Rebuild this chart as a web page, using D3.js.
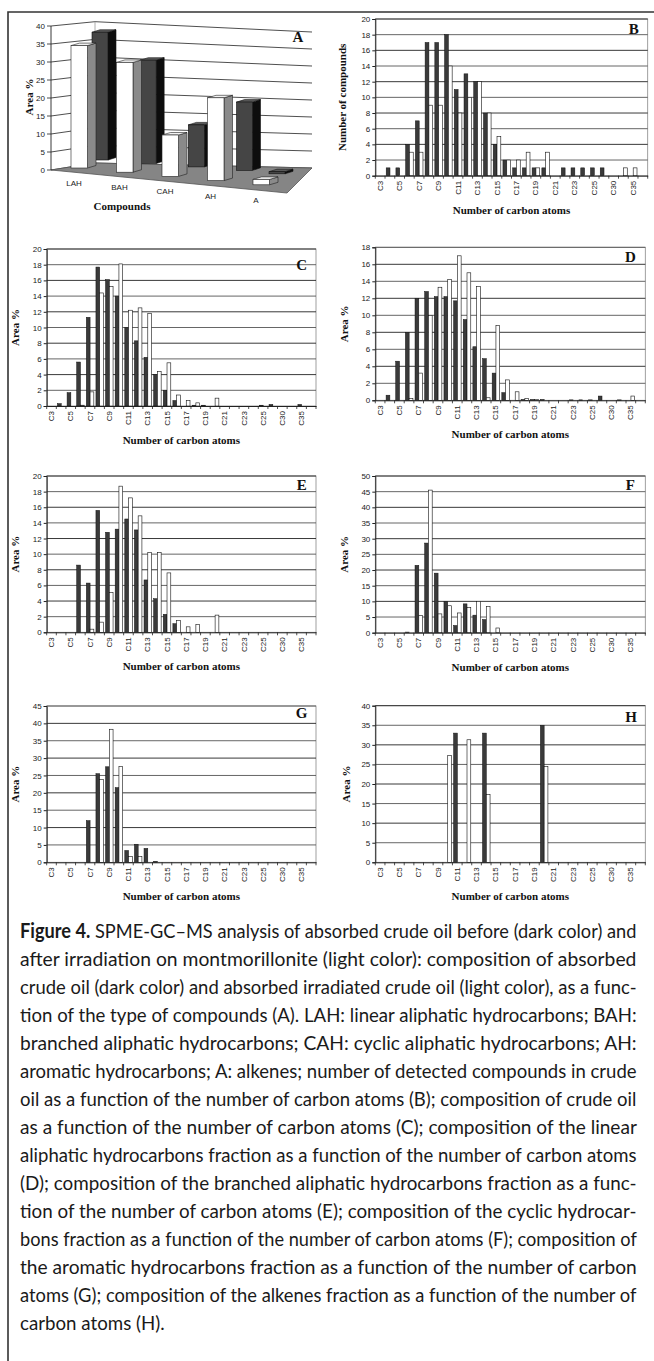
<!DOCTYPE html>
<html>
<head>
<meta charset="utf-8">
<script src="https://cdnjs.cloudflare.com/ajax/libs/d3/7.8.5/d3.min.js"></script>
<style>
  body { margin: 0; background: #fff; }
  svg { display: block; }
</style>
</head>
<body>
<div class="container"></div>
<script>
const size = {
    width: 654,
    height: 1361
};

// ---- data: panel A (3D columns) ----
const compounds = ["LAH", "BAH", "CAH", "AH", "A"];
const areaAfter = [34, 30.5, 11.5, 23, 1.5];     // light, front row
const areaBefore = [36.5, 29.5, 12, 19.5, 0.6];  // dark, back row
const ticksA = [0, 5, 10, 15, 20, 25, 30, 35, 40];

// ---- data: panels B..H ----
const carbons = ["C3","C4","C5","C6","C7","C8","C9","C10","C11","C12","C13","C14","C15","C16",
                 "C17","C18","C19","C20","C21","C22","C23","C24","C25","C27","C30","C33","C35","C36"];

const compBefore = [0,1,1,4,7,17,17,18,11,13,12,8,4,2,1,1,1,1,0,1,1,1,1,1,0,0,0,0];
const compAfter  = [0,0,0,3,3,9,9,14,8,10,12,8,5,2,2,3,1,3,0,0,0,0,0,0,0,1,1,0];

const crudeBefore = [0,0.3,1.7,5.6,11.3,17.7,16.1,14,10,8.3,6.2,4,2,0.7,0,0.1,0.1,0,0,0,0,0,0.1,0.2,0,0,0.2,0];
const crudeAfter  = [0,0,0,0.1,1.8,14.4,15.2,18.1,12.2,12.5,11.8,4.4,5.5,1.4,0.7,0.4,0,1.0,0,0,0,0,0,0,0,0,0,0];

const linearBefore = [0,0.6,4.6,8,12,12.8,12.2,12.2,11.7,9.5,6.3,4.9,3.2,0.9,0,0.1,0.1,0.1,0,0,0.05,0.05,0.05,0.5,0,0.05,0,0];
const linearAfter  = [0,0,0,0.2,3.2,10,13.3,14.2,17,15,13.4,0.3,8.8,2.4,1.0,0.2,0.1,0,0,0,0,0,0,0,0,0,0.5,0];

const branchedBefore = [0,0,0,8.6,6.3,15.6,12.8,13.2,14.5,13.1,6.7,4.3,2.3,1.1,0,0,0,0,0,0,0,0,0,0,0,0,0,0];
const branchedAfter  = [0,0,0,0,0.4,1.3,5.1,18.7,17.2,14.9,10.2,10.2,7.6,1.5,0.7,1.0,0,2.2,0,0,0,0,0,0,0,0,0,0];

const cyclicBefore = [0,0,0,0.2,21.5,28.6,19,10,2.3,9.2,5.6,4.2,0,0,0,0,0,0,0,0,0,0,0,0,0,0,0,0];
const cyclicAfter  = [0,0,0,0,5.5,45.5,6,8.6,6.3,8,10,8.3,1.5,0,0,0,0,0,0,0,0,0,0,0,0,0,0,0];

const aromaticBefore = [0,0,0,0,12,25.5,27.5,21.5,3.4,5.2,4,0.3,0,0,0,0,0,0,0,0,0,0,0,0,0,0,0,0];
const aromaticAfter  = [0,0,0,0,0,23.8,38.3,27.6,1.7,1.7,0,0,0,0,0,0,0,0,0,0,0,0,0,0,0,0,0,0];

const alkenesBefore = [0,0,0,0,0,0,0,0,33,0,0,33,0,0,0,0,0,35,0,0,0,0,0,0,0,0,0,0];
const alkenesAfter  = [0,0,0,0,0,0,0,27.3,0,31.3,0,17.3,0,0,0,0,0,24.5,0,0,0,0,0,0,0,0,0,0];

const captionLines = [
    " SPME-GC\u2013MS analysis of absorbed crude oil before (dark color) and",
    "after irradiation on montmorillonite (light color): composition of absorbed",
    "crude oil (dark color) and absorbed irradiated crude oil (light color), as a func-",
    "tion of the type of compounds (A). LAH: linear aliphatic hydrocarbons; BAH:",
    "branched aliphatic hydrocarbons; CAH: cyclic aliphatic hydrocarbons; AH:",
    "aromatic hydrocarbons; A: alkenes; number of detected compounds in crude",
    "oil as a function of the number of carbon atoms (B); composition of crude oil",
    "as a function of the number of carbon atoms (C); composition of the linear",
    "aliphatic hydrocarbons fraction as a function of the number of carbon atoms",
    "(D); composition of the branched aliphatic hydrocarbons fraction as a func-",
    "tion of the number of carbon atoms (E); composition of the cyclic hydrocar-",
    "bons fraction as a function of the number of carbon atoms (F); composition of",
    "the aromatic hydrocarbons fraction as a function of the number of carbon",
    "atoms (G); composition of the alkenes fraction as a function of the number of",
    "carbon atoms (H)."
];

const sans = "'Liberation Sans', Arial, sans-serif";
const serif = "'Liberation Serif', 'Times New Roman', serif";

const svg = d3.selectAll(".container")
              .append("svg")
              .attr("width", size.width)
              .attr("height", size.height);

// frame
svg.append("path")
   .attr("d", "M8,1361 L8,12 L654,12")
   .attr("fill", "none")
   .attr("stroke", "#333")
   .attr("stroke-width", 1.6);

// ================= panel A =================
const gA = svg.append("g");
const catA = d3.scaleBand().domain(compounds).range([71, 71 + 45.5 * 5]);
const baseA = d3.scaleLinear().domain([71, 298.5]).range([168, 189]);
const hFront = d3.scaleLinear().domain([0, 40]).range([0, 144]);
const hBack = d3.scaleLinear().domain([0, 40]).range([0, 140]);
// offset of the back (dark) row behind the front row, per category
const depthDx = d3.scaleLinear().domain([0, 3, 4]).range([21, 29, 16]);
const depthDy = d3.scaleLinear().domain([0, 4]).range([-8, -11]);
const leftWallY = d3.scaleLinear().domain([0, 40]).range([170, 26]);
const backWallL = d3.scaleLinear().domain([0, 40]).range([163, 21.7]);
const backWallR = d3.scaleLinear().domain([0, 40]).range([168, 32]);

gA.append("polygon")
  .attr("points", [[51, 26], [95, 21.7], [312, 32], [312, 168], [95, 163], [51, 170]].join(" "))
  .attr("fill", "#fff");

gA.selectAll(".gridA")
  .data(ticksA)
  .enter()
    .append("polyline")
    .attr("points", d => [[51, leftWallY(d)], [95, backWallL(d)], [312, backWallR(d)]].join(" "))
    .attr("fill", "none")
    .attr("stroke", "#222")
    .attr("stroke-width", 0.8);

gA.append("line")
  .attr("x1", 95).attr("x2", 95).attr("y1", 21.7).attr("y2", 163)
  .attr("stroke", "#999").attr("stroke-width", 0.8);

// floor
gA.append("polygon")
  .attr("points", [[51, 170], [287, 193], [312, 168], [95, 163]].join(" "))
  .attr("fill", "#858585")
  .attr("stroke", "#555")
  .attr("stroke-width", 0.8);

// axis
gA.append("line")
  .attr("x1", 51).attr("x2", 51).attr("y1", 26).attr("y2", 170)
  .attr("stroke", "#222").attr("stroke-width", 0.9);
gA.selectAll(".tickA")
  .data(ticksA)
  .enter()
    .append("line")
    .attr("x1", 47).attr("x2", 51)
    .attr("y1", d => leftWallY(d)).attr("y2", d => leftWallY(d))
    .attr("stroke", "#222").attr("stroke-width", 0.8);
gA.selectAll(".tickLabelA")
  .data(ticksA)
  .enter()
    .append("text")
    .attr("x", 45)
    .attr("y", d => leftWallY(d))
    .attr("dy", "0.35em")
    .attr("text-anchor", "end")
    .attr("font-family", sans)
    .attr("font-size", 8)
    .attr("fill", "#222")
    .text(d => d);

const bar3d = (g, x, yb, w, h, sx, sy, c) => {
    const yt = yb - h;
    g.append("polygon")
     .attr("points", [[x + w, yb], [x + w + sx, yb + sy], [x + w + sx, yt + sy], [x + w, yt]].join(" "))
     .attr("fill", c.side).attr("stroke", c.stroke).attr("stroke-width", 0.6);
    g.append("polygon")
     .attr("points", [[x, yt], [x + w, yt], [x + w + sx, yt + sy], [x + sx, yt + sy]].join(" "))
     .attr("fill", c.top).attr("stroke", c.stroke).attr("stroke-width", 0.6);
    g.append("rect")
     .attr("x", x).attr("y", yt).attr("width", w).attr("height", h)
     .attr("fill", c.front).attr("stroke", c.stroke).attr("stroke-width", 0.6);
};

const darkStyle = {front: "#454545", side: "#0d0d0d", top: "#5a5a5a", stroke: "#111"};
const lightStyle = {front: "#ffffff", side: "#8a8a8a", top: "#f2f2f2", stroke: "#222"};

compounds.forEach((c, i) => {
    const x = catA(c) + depthDx(i);
    const yb = baseA(catA(c)) + depthDy(i);
    bar3d(gA, x, yb, 16, hBack(areaBefore[i]), 8, -2.5, darkStyle);
});
compounds.forEach((c, i) => {
    const x = catA(c);
    bar3d(gA, x, baseA(x), 16.5, hFront(areaAfter[i]), 8.5, -2.5, lightStyle);
});

gA.selectAll(".catLabelA")
  .data(compounds)
  .enter()
    .append("text")
    .attr("x", d => catA(d) + 3)
    .attr("y", d => baseA(catA(d)) + 18)
    .attr("text-anchor", "middle")
    .attr("font-family", sans)
    .attr("font-size", 8)
    .attr("fill", "#222")
    .text(d => d);

gA.append("text")
  .attr("x", 122).attr("y", 210)
  .attr("text-anchor", "middle")
  .attr("font-family", serif).attr("font-weight", "bold").attr("font-size", 11)
  .attr("fill", "#111")
  .text("Compounds");
gA.append("text")
  .attr("transform", "translate(33,97) rotate(-90)")
  .attr("text-anchor", "middle")
  .attr("font-family", serif).attr("font-weight", "bold").attr("font-size", 11)
  .attr("fill", "#111")
  .text("Area %");
gA.append("text")
  .attr("x", 298).attr("y", 37)
  .attr("text-anchor", "middle").attr("dy", "0.35em")
  .attr("font-family", serif).attr("font-weight", "bold").attr("font-size", 15)
  .attr("fill", "#111")
  .text("A");

// ================= panels B..H =================
const panels = [
    {letter: "B", before: compBefore, after: compAfter, max: 20, step: 2, ytitle: "Number of compounds",
     x0: 375.3, x1: 647.7, y0: 175.7, y1: 19, tx: 342, lx: 633.7, ly: 28.3},
    {letter: "C", before: crudeBefore, after: crudeAfter, max: 20, step: 2, ytitle: "Area %",
     x0: 46.7, x1: 316, y0: 406, y1: 249, tx: 15, lx: 301.7, ly: 265},
    {letter: "D", before: linearBefore, after: linearAfter, max: 18, step: 2, ytitle: "Area %",
     x0: 375.3, x1: 645.3, y0: 400.3, y1: 247.3, tx: 344, lx: 630.3, ly: 256.7},
    {letter: "E", before: branchedBefore, after: branchedAfter, max: 20, step: 2, ytitle: "Area %",
     x0: 46.7, x1: 316, y0: 632.3, y1: 476, tx: 15, lx: 301.7, ly: 485},
    {letter: "F", before: cyclicBefore, after: cyclicAfter, max: 50, step: 5, ytitle: "Area %",
     x0: 375.3, x1: 645.3, y0: 632.7, y1: 476, tx: 344, lx: 630.3, ly: 485},
    {letter: "G", before: aromaticBefore, after: aromaticAfter, max: 45, step: 5, ytitle: "Area %",
     x0: 46.7, x1: 316, y0: 862.3, y1: 706, tx: 15, lx: 301.7, ly: 713},
    {letter: "H", before: alkenesBefore, after: alkenesAfter, max: 40, step: 5, ytitle: "Area %",
     x0: 375.3, x1: 645.3, y0: 862.3, y1: 705.7, tx: 346, lx: 631, ly: 716.7}
];

const drawPanel = (p) => {
    const g = svg.append("g");
    const x = d3.scaleBand().domain(carbons).range([p.x0, p.x1]);
    const y = d3.scaleLinear().domain([0, p.max]).range([p.y0, p.y1]);
    const bw = x.bandwidth();
    const inner = d3.scaleBand().domain(["before", "after"]).range([0.12 * bw, 0.9 * bw]);
    const ticks = d3.range(0, p.max + p.step / 2, p.step);

    g.append("rect")
     .attr("x", p.x0).attr("y", p.y1)
     .attr("width", p.x1 - p.x0).attr("height", p.y0 - p.y1)
     .attr("fill", "#fff").attr("stroke", "#888").attr("stroke-width", 0.8);

    g.selectAll(".grid")
     .data(ticks.slice(1))
     .enter()
       .append("line")
       .attr("x1", p.x0).attr("x2", p.x1)
       .attr("y1", d => y(d)).attr("y2", d => y(d))
       .attr("stroke", (d, i) => i % 2 ? "#222" : "#555")
       .attr("stroke-width", 0.9);

    const rows = carbons.map((c, i) => ({c: c, b: p.before[i], a: p.after[i]}));

    g.selectAll(".barB")
     .data(rows.filter(d => d.b > 0))
     .enter()
       .append("rect")
       .attr("x", d => x(d.c) + inner("before"))
       .attr("y", d => y(d.b))
       .attr("width", inner.bandwidth())
       .attr("height", d => y(0) - y(d.b))
       .attr("fill", "#3a3a3a")
       .attr("stroke", "#111")
       .attr("stroke-width", 0.5);

    g.selectAll(".barA")
     .data(rows.filter(d => d.a > 0))
     .enter()
       .append("rect")
       .attr("x", d => x(d.c) + inner("after"))
       .attr("y", d => y(d.a))
       .attr("width", inner.bandwidth())
       .attr("height", d => y(0) - y(d.a))
       .attr("fill", "#fff")
       .attr("stroke", "#111")
       .attr("stroke-width", 0.6);

    // y axis
    const yAxis = g.append("g")
       .attr("transform", `translate(${p.x0},0)`)
       .call(d3.axisLeft(y).tickValues(ticks).tickSize(3).tickPadding(2));
    yAxis.select(".domain").attr("stroke", "#222");
    yAxis.selectAll("line").attr("stroke", "#222");
    yAxis.selectAll("text").attr("font-family", sans).attr("font-size", 8).attr("fill", "#222");

    // x axis
    const xAxis = g.append("g")
       .attr("transform", `translate(0,${p.y0})`)
       .call(d3.axisBottom(x).tickSize(0).tickPadding(0)
             .tickFormat((d, i) => i % 2 === 0 ? d : ""));
    xAxis.select(".domain").attr("stroke", "#222");
    xAxis.selectAll("text")
       .attr("transform", "rotate(-90)")
       .attr("x", -5).attr("y", 0).attr("dy", "0.33em")
       .attr("text-anchor", "end")
       .attr("font-family", sans).attr("font-size", 8).attr("fill", "#222");

    g.selectAll(".xtick")
     .data(d3.range(carbons.length + 1))
     .enter()
       .append("line")
       .attr("x1", i => p.x0 + i * x.step()).attr("x2", i => p.x0 + i * x.step())
       .attr("y1", p.y0).attr("y2", p.y0 + 3)
       .attr("stroke", "#222").attr("stroke-width", 0.8);

    g.append("text")
     .attr("x", (p.x0 + p.x1) / 2).attr("y", p.y0 + 38)
     .attr("text-anchor", "middle")
     .attr("font-family", serif).attr("font-weight", "bold").attr("font-size", 11)
     .attr("fill", "#111")
     .text("Number of carbon atoms");

    g.append("text")
     .attr("transform", `translate(${p.tx},${(p.y0 + p.y1) / 2}) rotate(-90)`)
     .attr("text-anchor", "middle").attr("dy", "0.35em")
     .attr("font-family", serif).attr("font-weight", "bold").attr("font-size", 11)
     .attr("fill", "#111")
     .text(p.ytitle);

    g.append("text")
     .attr("x", p.lx).attr("y", p.ly).attr("dy", "0.35em")
     .attr("text-anchor", "middle")
     .attr("font-family", serif).attr("font-weight", "bold").attr("font-size", 15)
     .attr("fill", "#111")
     .text(p.letter);
};

panels.forEach(drawPanel);

// ================= caption =================
const capLeft = 20, capWidth = 617, capTop = 938, capStep = 28;
const cap = svg.append("g")
   .attr("font-family", "Lato, 'Open Sans', sans-serif")
   .attr("font-size", 20)
   .attr("fill", "#1a1a1a");

const capNodes = captionLines.map((t, i) => {
    const el = cap.append("text").attr("x", 0).attr("y", 0);
    if (i === 0) {
        el.append("tspan").attr("font-weight", "bold").text("Figure 4.");
        el.append("tspan").text(t);
    } else {
        el.text(t);
    }
    return el;
});
// justify each line by a horizontal squeeze of its own
const widths = capNodes.map(n => n.node().getComputedTextLength());
const squeeze = d3.mean(widths.slice(0, -1), w => capWidth / w);
capNodes.forEach((n, i) => {
    const s = i < capNodes.length - 1 ? capWidth / widths[i] : squeeze;
    n.attr("transform", `translate(${capLeft},${capTop + i * capStep}) scale(${s},1)`);
});
</script>
</body>
</html>
